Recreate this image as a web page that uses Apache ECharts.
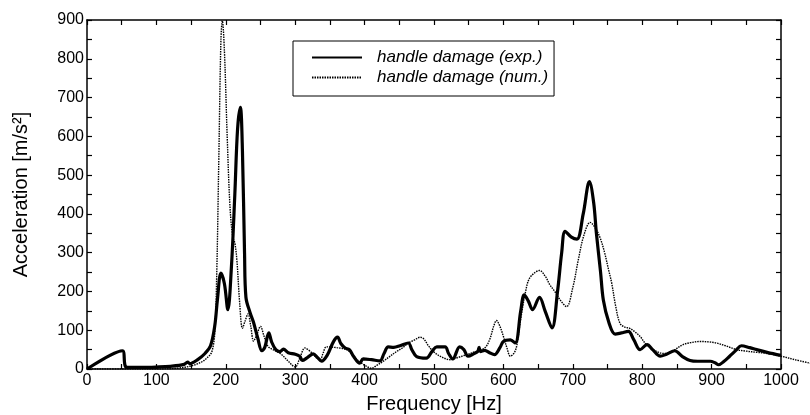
<!DOCTYPE html>
<html>
<head>
<meta charset="utf-8">
<script src="https://cdn.jsdelivr.net/npm/echarts@6/dist/echarts.min.js"></script>
<style>
  html, body { margin: 0; padding: 0; background: #fff; }
  #main { width: 810px; height: 415px; }
</style>
</head>
<body>
<div id="main"></div>
<script>
var expFreq = [0, 51, 55, 60, 80, 100, 120, 140, 145, 148, 160, 170, 178, 184, 188, 193, 198, 203, 208, 213,
  217, 221, 224, 227, 229, 235, 240, 246, 252, 256, 262, 266, 272, 278, 283, 290, 300, 307, 310, 318,
  326, 332, 338, 346, 355, 361, 366, 372, 378, 384, 393, 398, 410, 422, 428, 434, 442, 451, 463, 468,
  475, 489, 497, 504, 516, 521, 527, 537, 543, 549, 558, 563, 565, 567, 573, 580, 587, 595, 600, 610,
  617, 625, 630, 636, 642, 652, 660, 670, 678, 684, 689, 698, 706, 715, 724, 730, 734, 740, 744, 752,
  761, 770, 780, 788, 797, 807, 815, 826, 835, 847, 858, 869, 880, 898, 905, 910, 918, 926, 935, 943,
  955, 965, 980, 1000];
var expAcc = [0, 47, 8, 4, 4, 5, 7, 12, 18, 14, 25, 40, 60, 110, 180, 247, 220, 153, 260, 450,
  620, 675, 560, 300, 185, 145, 120, 80, 47, 55, 93, 70, 50, 45, 51, 42, 38, 32, 22, 30,
  39, 30, 20, 35, 70, 82, 65, 54, 50, 33, 15, 26, 24, 21, 40, 57, 56, 60, 67, 50,
  32, 28, 45, 57, 57, 40, 26, 57, 50, 33, 40, 45, 56, 45, 48, 42, 37, 55, 71, 75,
  67, 150, 191, 175, 153, 185, 150, 106, 200, 300, 355, 340, 335, 400, 483, 430, 350, 250, 178, 120,
  90, 93, 97, 75, 50, 63, 50, 33, 38, 47, 32, 22, 20, 20, 16, 11, 20, 33, 48, 60,
  55, 50, 43, 35];

// numerical model (runs a little past 1000 Hz, off the frame)
var numFreq = [0, 50, 100, 130, 150, 165, 175, 180, 184, 187, 190, 193, 195, 198, 202, 206, 210, 213, 216, 220,
  224, 228, 232, 236, 240, 244, 250, 255, 261, 270, 280, 290, 300, 307, 314, 322, 330, 336, 340, 345,
  360, 374, 382, 389, 400, 410, 418, 427, 436, 446, 455, 463, 472, 480, 485, 492, 499, 510, 523, 535,
  547, 560, 573, 580, 586, 590, 595, 600, 605, 610, 615, 619, 625, 632, 637, 645, 652, 660, 667, 674,
  681, 691, 700, 708, 716, 725, 734, 740, 746, 751, 756, 762, 768, 775, 782, 790, 797, 805, 816, 825,
  833, 845, 859, 870, 883, 895, 907, 920, 936, 950, 965, 980, 1000, 1020, 1042];
var numAcc = [0, 0, 0, 2, 8, 18, 32, 45, 90, 250, 550, 850, 898, 820, 600, 420, 340, 325, 280, 170,
  105, 125, 142, 110, 72, 85, 110, 85, 58, 48, 38, 20, 5, 30, 54, 45, 30, 24, 40, 57,
  55, 50, 38, 24, 10, 2, 10, 20, 32, 45, 55, 67, 75, 82, 78, 60, 45, 32, 24, 30,
  37, 45, 54, 75, 110, 125, 110, 84, 55, 33, 40, 58, 130, 200, 232, 248, 254, 240, 217, 200,
  180, 161, 210, 282, 345, 378, 359, 335, 299, 260, 222, 160, 118, 108, 105, 95, 84, 65, 50, 42,
  40, 48, 63, 68, 71, 70, 67, 60, 50, 46, 43, 40, 33, 24, 15];

var seriesNames = ['handle damage (exp.)', 'handle damage (num.)'];
var xTicks = 50, yTicks = 50;
var xMax = 1000, xMaxWide = 1050, yMax = 900;

function pairs(xs, ys) {
  var out = [];
  for (var i = 0; i < xs.length; i++) out.push([xs[i], ys[i]]);
  return out;
}

var chart = echarts.init(document.getElementById('main'), null, { renderer: 'canvas' });

var font = 'Liberation Sans, Arial, sans-serif';
var labelEvery100 = function (v) { return v % 100 === 0 ? String(v) : ''; };

var plotLeft = 87, plotRight = 29, plotTop = 20, plotBottom = 46;
var plotWidth = 810 - plotLeft - plotRight;

function xAxisDef(pos, showLabels) {
  return {
    type: 'value', gridIndex: 0, position: pos, min: 0, max: xMax, interval: xTicks,
    name: showLabels ? 'Frequency [Hz]' : '', nameLocation: 'middle', nameGap: 25,
    nameTextStyle: { fontFamily: font, fontSize: 20, color: '#000' },
    axisLine: { show: true, onZero: false, lineStyle: { color: '#000', width: 1.5 } },
    axisTick: { show: true, inside: true, length: 5, lineStyle: { color: '#000', width: 1.2 } },
    axisLabel: { show: showLabels, formatter: labelEvery100, fontFamily: font, fontSize: 16, color: '#000', margin: 4 },
    splitLine: { show: false }
  };
}
function yAxisDef(pos, showLabels) {
  return {
    type: 'value', gridIndex: 0, position: pos, min: 0, max: yMax, interval: yTicks,
    name: showLabels ? 'Acceleration [m/s\u00b2]' : '', nameLocation: 'middle', nameGap: 56,
    nameTextStyle: { fontFamily: font, fontSize: 20, color: '#000' },
    axisLine: { show: true, onZero: false, lineStyle: { color: '#000', width: 1.5 } },
    axisTick: { show: true, inside: true, length: 5, lineStyle: { color: '#000', width: 1.2 } },
    axisLabel: { show: showLabels, formatter: labelEvery100, fontFamily: font, fontSize: 16, color: '#000', margin: 3 },
    splitLine: { show: false }
  };
}
// hidden axes on a wider grid with the same scale, so the dotted curve can run past 1000
var hiddenAxis = { show: false, axisLine: { show: false }, axisTick: { show: false }, axisLabel: { show: false }, splitLine: { show: false } };

var option = {
  animation: false,
  backgroundColor: '#fff',
  grid: [
    { left: plotLeft, right: plotRight, top: plotTop, bottom: plotBottom, outerBoundsMode: 'none', containLabel: false },
    { left: plotLeft, width: plotWidth * xMaxWide / xMax, top: plotTop, bottom: plotBottom, outerBoundsMode: 'none', containLabel: false }
  ],
  legend: {
    left: 293, top: 41, orient: 'vertical',
    itemWidth: 50, itemHeight: 14, itemGap: 3,
    padding: [8, 6, 10, 18],
    borderColor: '#000', borderWidth: 1,
    itemStyle: { opacity: 0 },
    textStyle: { fontFamily: font, fontSize: 17, fontStyle: 'italic', color: '#000', padding: [0, 0, 0, 10] },
    data: seriesNames
  },
  xAxis: [
    xAxisDef('bottom', true),
    xAxisDef('top', false),
    Object.assign({ type: 'value', gridIndex: 1, min: 0, max: xMaxWide }, hiddenAxis)
  ],
  yAxis: [
    yAxisDef('left', true),
    yAxisDef('right', false),
    Object.assign({ type: 'value', gridIndex: 1, min: 0, max: yMax }, hiddenAxis)
  ],
  series: [
    {
      name: seriesNames[0], type: 'line', smooth: 0.35, symbol: 'none',
      lineStyle: { color: '#000', width: 3.2 }, itemStyle: { color: '#000' },
      data: pairs(expFreq, expAcc), z: 3
    },
    {
      name: seriesNames[1], type: 'line', smooth: 0.35, symbol: 'none',
      xAxisIndex: 2, yAxisIndex: 2,
      lineStyle: { color: '#000', width: 1.4, type: [1.5, 1] }, itemStyle: { color: '#000' },
      data: pairs(numFreq, numAcc), z: 2
    }
  ]
};
chart.setOption(option);
</script>
</body>
</html>
